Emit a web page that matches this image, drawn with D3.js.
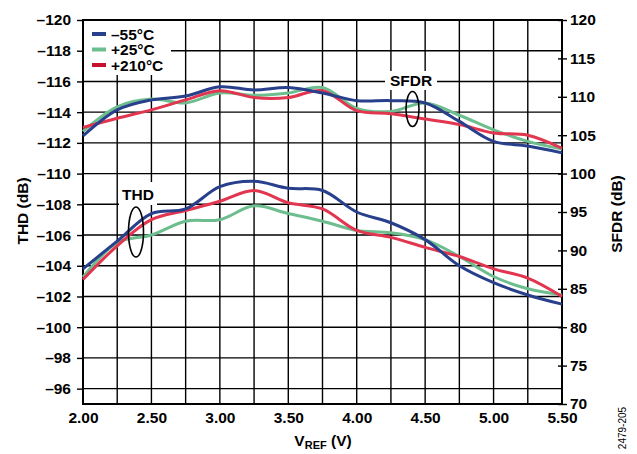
<!DOCTYPE html>
<html><head><meta charset="utf-8">
<script src="https://cdn.jsdelivr.net/npm/d3@7"></script>
<style>
body{margin:0;background:#fff;}
svg{display:block;font-family:"Liberation Sans",Arial,sans-serif;font-weight:bold;}
</style></head>
<body><svg id="chart" width="637" height="454"></svg>
<script>
// ---- data ----
const vref = [2.00, 2.25, 2.50, 2.75, 3.00, 3.25, 3.50, 3.75, 4.00, 4.25, 4.50, 4.75, 5.00, 5.25, 5.50];
const seriesNames = ["\u201355\u00B0C", "+25\u00B0C", "+210\u00B0C"];
// SFDR (dB), right axis
const sfdrM55  = [104.9, 108.3, 109.6, 110.1, 111.3, 110.9, 111.2, 110.5, 109.5, 109.5, 109.2, 106.8, 104.2, 103.6, 102.7];
const sfdrP25  = [105.5, 108.7, 109.7, 109.2, 110.5, 110.2, 110.5, 111.2, 108.5, 108.1, 109.2, 107.6, 105.7, 104.2, 103.2];
const sfdrP210 = [106.0, 107.2, 108.3, 109.6, 110.8, 109.9, 109.9, 110.8, 108.2, 107.8, 107.1, 106.4, 105.3, 105.0, 103.3];
// THD (dB), left axis
const thdM55  = [-103.8, -105.6, -107.4, -107.7, -109.15, -109.5, -109.05, -108.9, -107.5, -106.8, -105.7, -104.0, -102.9, -102.1, -101.5];
const thdP25  = [-103.25, -105.5, -106.0, -106.9, -107.0, -107.9, -107.4, -106.9, -106.3, -106.15, -105.7, -104.6, -103.3, -102.5, -102.1];
const thdP210 = [-103.1, -105.3, -107.0, -107.6, -108.2, -108.9, -108.1, -107.7, -106.3, -105.85, -105.2, -104.6, -103.8, -103.2, -102.0];
// ticks
const xTicks = [2.00, 2.50, 3.00, 3.50, 4.00, 4.50, 5.00, 5.50];
const xGrid = [2.25, 2.50, 2.75, 3.00, 3.25, 3.50, 3.75, 4.00, 4.25, 4.50, 4.75, 5.00, 5.25];
const leftTicks = [-120, -118, -116, -114, -112, -110, -108, -106, -104, -102, -100, -98, -96];
const rightTicks = [120, 115, 110, 105, 100, 95, 90, 85, 80, 75, 70];

// ---- layout ----
const L = 83, R = 562, T = 20, B = 404;
const lineColors = ["#283F8C", "#6DBE8E", "#E2354F"];
const legendColors = ["#283F8C", "#6DBE8E", "#C8102E"];
const svg = d3.select("#chart");
const x = d3.scaleLinear().domain([2, 5.5]).range([L, R]);
const yL = d3.scaleLinear().domain([-120, -95]).range([T, B]);
const yR = d3.scaleLinear().domain([120, 70]).range([T, B]);
const fmt = d => d < 0 ? "\u2013" + Math.abs(d) : String(d);
const FS = "15.5px";

// grid
const g = svg.append("g").attr("stroke", "#000").attr("stroke-width", 1.4);
g.selectAll(".vg").data(xGrid).join("line")
  .attr("x1", d => x(d)).attr("x2", d => x(d)).attr("y1", T).attr("y2", B);
g.selectAll(".hg").data(leftTicks.slice(1)).join("line")
  .attr("x1", L).attr("x2", R).attr("y1", d => yL(d)).attr("y2", d => yL(d));

// axes
const axL = svg.append("g").attr("transform", `translate(${L},0)`)
  .call(d3.axisLeft(yL).tickValues(leftTicks).tickSize(6).tickPadding(6).tickFormat(fmt));
const axB = svg.append("g").attr("transform", `translate(0,${B})`)
  .call(d3.axisBottom(x).tickValues(xTicks).tickSize(0).tickPadding(8).tickFormat(d3.format(".2f")));
const axR = svg.append("g").attr("transform", `translate(${R},0)`)
  .call(d3.axisRight(yR).tickValues(rightTicks).tickSize(5).tickPadding(3).tickFormat(fmt));
axR.selectAll(".tick line").attr("x1", -4);
[axL, axB, axR].forEach(a => {
  a.select(".domain").remove();
  a.selectAll(".tick line").attr("stroke", "#000").attr("stroke-width", 1.4);
  a.selectAll("text").attr("fill", "#000").style("font-size", FS).style("font-weight", "bold")
    .style("font-family", '"Liberation Sans",Arial,sans-serif');
});
// frame
svg.append("rect").attr("x", L).attr("y", T).attr("width", R - L).attr("height", B - T)
  .attr("fill", "none").attr("stroke", "#000").attr("stroke-width", 2);

// white label boxes
svg.append("rect").attr("x", L + 1).attr("y", T + 1).attr("width", 87).attr("height", 54).attr("fill", "#fff");
svg.append("rect").attr("x", 385).attr("y", 71).attr("width", 52).attr("height", 19).attr("fill", "#fff");
svg.append("rect").attr("x", 119).attr("y", 182).attr("width", 38).attr("height", 23).attr("fill", "#fff");

// curves
const sfdr = [sfdrM55, sfdrP25, sfdrP210];
const thd = [thdM55, thdP25, thdP210];
const curve = d3.curveCatmullRom.alpha(0.5);
const lineR = d3.line().x((d, i) => x(vref[i])).y(d => yR(d)).curve(curve);
const lineLft = d3.line().x((d, i) => x(vref[i])).y(d => yL(d)).curve(curve);
const order = [1, 2, 0];
order.forEach(k => {
  svg.append("path").attr("d", lineR(sfdr[k])).attr("fill", "none")
    .attr("stroke", lineColors[k]).attr("stroke-width", 3).attr("stroke-linejoin", "round");
});
order.forEach(k => {
  svg.append("path").attr("d", lineLft(thd[k])).attr("fill", "none")
    .attr("stroke", lineColors[k]).attr("stroke-width", 3).attr("stroke-linejoin", "round");
});

// annotations
svg.append("ellipse").attr("cx", 412.5).attr("cy", 109).attr("rx", 6.5).attr("ry", 17.5)
  .attr("fill", "none").attr("stroke", "#000").attr("stroke-width", 1.6);
svg.append("ellipse").attr("cx", 136).attr("cy", 232).attr("rx", 7.5).attr("ry", 25)
  .attr("fill", "none").attr("stroke", "#000").attr("stroke-width", 1.6);
svg.append("text").attr("x", 411).attr("y", 86).attr("text-anchor", "middle")
  .style("font-size", FS).text("SFDR");
svg.append("text").attr("x", 138).attr("y", 200).attr("text-anchor", "middle")
  .style("font-size", FS).text("THD");

// legend
const lg = svg.append("g");
seriesNames.forEach((n, i) => {
  const yy = 34 + i * 15.5;
  lg.append("line").attr("x1", 92).attr("x2", 106).attr("y1", yy).attr("y2", yy)
    .attr("stroke", legendColors[i]).attr("stroke-width", 4);
  lg.append("text").attr("x", 111).attr("y", yy + 5.5).style("font-size", FS).text(n);
});

// axis titles
svg.append("text").attr("transform", "translate(28,211) rotate(-90)").attr("text-anchor", "middle")
  .style("font-size", FS).text("THD (dB)");
svg.append("text").attr("transform", "translate(622,214) rotate(-90)").attr("text-anchor", "middle")
  .style("font-size", FS).text("SFDR (dB)");
const xt = svg.append("text").attr("x", 323).attr("y", 446).attr("text-anchor", "middle").style("font-size", FS);
xt.append("tspan").text("V");
xt.append("tspan").attr("dy", 3).style("font-size", "11px").text("REF");
xt.append("tspan").attr("dy", -3).text(" (V)");
svg.append("text").attr("transform", "translate(626,428) rotate(-90)").attr("text-anchor", "middle")
  .style("font-size", "10px").style("font-weight", "normal").text("2479-205");
</script></body></html>
